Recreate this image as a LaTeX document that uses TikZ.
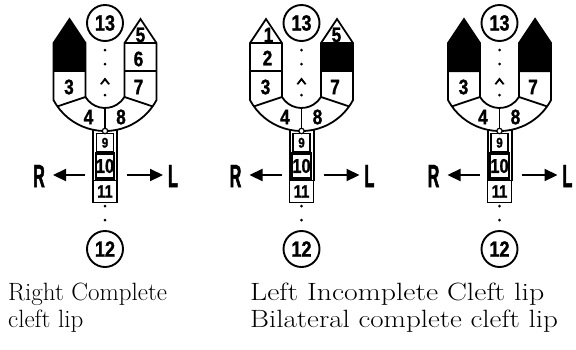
\documentclass[tikz,border=0pt]{standalone}
\usepackage{fontspec}
\newfontfamily\numfont{Liberation Sans}[FakeStretch=0.82, FakeBold=1.2]
\newfontfamily\sidefont{Liberation Sans}[FakeStretch=0.5, FakeBold=1.5]
\usetikzlibrary{arrows.meta}

\tikzset{
  x=1pt, y=1pt,
  ln/.style={line width=1.8pt, line join=miter, line cap=butt},
  num/.style={inner sep=0pt, font=\numfont\bfseries\fontsize{21}{21}\selectfont},
  ring/.style={circle, draw, line width=1.9pt, minimum size=36pt, inner sep=0pt,
    font=\numfont\bfseries\fontsize{22}{22}\selectfont},
  stemcell/.style={draw, inner sep=0pt, font=\numfont\bfseries\fontsize{#1}{#1}\selectfont},
  side/.style={inner sep=0pt, font=\sidefont\bfseries\fontsize{32}{32}\selectfont},
  arr/.style={line width=2.2pt, -{Triangle[length=13pt,width=12pt]}},
  dot/.style={fill, circle, inner sep=0pt, minimum size=3pt},
  caption/.style={inner sep=0pt, anchor=base west, font=\fontsize{25}{27}\selectfont},
  blk/.style={fill=black}
}

% One face chart: #1 = node prefix, #2 = horizontal position of the axis
\newcommand\facechart[2]{%
  \begin{scope}[xshift=#2pt]
    % outline of lip halves and the lower arc
    \draw[ln] (-19.5,-97) -- (-19.5,-43) -- (-35.5,-19) -- (-51.5,-43) -- (-51.5,-100)
      arc[start angle=207.9, end angle=332.1, radius=58.3]
      -- (51.5,-43) -- (35.5,-19) -- (19.5,-43) -- (19.5,-97);
    \draw[ln] (-51.5,-43) -- (-19.5,-43) (19.5,-43) -- (51.5,-43);
    \draw[ln] (-51.5,-71) -- (-19.5,-71) (19.5,-71) -- (51.5,-71);
    \draw[ln] (-19.5,-97) arc[start angle=211.2, end angle=328.8, radius=22.78];
    \draw[ln] (-19.5,-97) -- (-47.6,-106.4) (19.5,-97) -- (47.6,-106.4);
    % columella line, node point and stem
    \node[circle, draw, fill=white, line width=1.2pt, minimum size=5.4pt, inner sep=0pt] (#1np) at (0,-131) {};
    \draw[ln] (0,-108) -- (#1np.north);
    \draw[line width=2pt] (-12,-129.7) -- (-12,-180.5) (12,-129.7) -- (12,-180.5);
    \node[stemcell=14, line width=1.2pt, minimum width=17pt, minimum height=18.5pt] (#1c9) at (0,-142.75) {9};
    \node[stemcell=20, line width=2.2pt, minimum width=17pt, minimum height=25pt] (#1c10) at (0,-166) {10};
    \node[stemcell=18, line width=1.6pt, minimum width=24pt, minimum height=22pt] (#1c11) at (0,-191.5) {11};
    % midline dots and philtrum mark
    \node[dot] (#1d1) at (0,-50) {};
    \node[dot] (#1d2) at (0,-64) {};
    \node[dot] (#1d3) at (0,-95) {};
    \fill (-5,-84) -- (0,-77.5) -- (5,-84) -- (3.2,-84.6) -- (0,-80.6) -- (-3.2,-84.6) -- cycle;
    \node[dot] (#1d4) at (0,-206) {};
    \node[dot] (#1d5) at (0,-220) {};
    % numbered landmarks
    \node[ring] (#1c13) at (0,-23) {13};
    \node[ring] (#1c12) at (0,-249) {12};
    \node[num] (#1n3) at (-36,-87) {3};
    \node[num] (#1n4) at (-16.5,-117) {4};
    \node[num] (#1n8) at (16,-117) {8};
    \node[num] (#1n7) at (33.5,-87) {7};
    % direction arrows
    \node[side] (#1R) at (-66,-176) {R};
    \node[side] (#1L) at (68,-176) {L};
    \coordinate (#1ra) at (-20,-175);
    \coordinate (#1rb) at (-52,-175);
    \coordinate (#1la) at (22,-175);
    \coordinate (#1lb) at (58,-175);
    \draw[arr] (#1ra) -- (#1rb);
    \draw[arr] (#1la) -- (#1lb);
  \end{scope}}

\begin{document}
\begin{tikzpicture}
  \useasboundingbox (0,0) rectangle (576,-349);

  % left segments filled (right complete cleft)
  \fill[blk] (105-51.5,-71) -- (105-51.5,-43) -- (105-35.5,-19) -- (105-19.5,-43) -- (105-19.5,-71) -- cycle;
  \facechart{a}{105}
  \node[num] (an5) at (105+35.5,-35) {5};
  \node[num] (an6) at (105+33.5,-59) {6};

  % segment 6 filled (left incomplete cleft)
  \fill[blk] (301.5+19.5,-71) rectangle (301.5+51.5,-43);
  \facechart{b}{301.5}
  \node[num] (bn1) at (301.5-33,-35) {1};
  \node[num] (bn2) at (301.5-34,-58) {2};
  \node[num] (bn5) at (301.5+35,-35) {5};

  % both sides filled (bilateral complete cleft)
  \fill[blk] (499.5-51.5,-72) -- (499.5-51.5,-43) -- (499.5-35.5,-19) -- (499.5-19.5,-43) -- (499.5-19.5,-72) -- cycle;
  \fill[blk] (499.5+51.5,-72) -- (499.5+51.5,-43) -- (499.5+35.5,-19) -- (499.5+19.5,-43) -- (499.5+19.5,-72) -- cycle;
  \facechart{c}{499.5}

  % captions
  \node[caption] (t1) at (8,-300) {Right Complete};
  \node[caption] (t2) at (8,-327) {cleft lip};
  \node[caption] (t3) at (250,-300) {\scalebox{1.19}[1]{Left Incomplete Cleft lip}};
  \node[caption] (t4) at (250,-327) {\scalebox{1.16}[1]{Bilateral complete cleft lip}};
\end{tikzpicture}
\end{document}
